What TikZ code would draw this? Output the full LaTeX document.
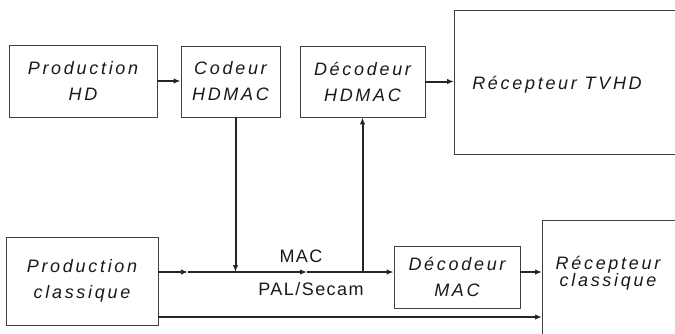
\documentclass[tikz,border=0pt]{standalone}
\usepackage{fontspec}
\setmainfont{Liberation Sans}
\newfontfamily\blocfont[LetterSpace=15]{Liberation Sans}
\newfontfamily\etiqfont[LetterSpace=8]{Liberation Sans}
\usetikzlibrary{arrows.meta}
\tikzset{
	bloc/.style={draw=black!75,line width=0.8pt,align=center,inner sep=0pt,text=black!90,
		font=\blocfont\itshape\fontsize{18}{26}\selectfont},
	liaison/.style={draw=black!85,line width=2pt,-{Latex[length=7pt,width=5.5pt]}},
	etiq/.style={inner sep=0pt,text=black!90,font=\etiqfont\fontsize{18}{22}\selectfont}
}
\begin{document}
\begin{tikzpicture}[x=1pt,y=-1pt]
	\useasboundingbox (0,0) rectangle (675,333);
	% blocs
	\node[bloc,minimum width=148pt,minimum height=72pt] (phd) at (83,81) {Production\\HD};
	\node[bloc,minimum width=99pt,minimum height=71pt] (cod) at (230.5,81.5) {Codeur\\HDMAC};
	\node[bloc,minimum width=125pt,minimum height=71pt] (dec) at (362.5,81.5) {Décodeur\\HDMAC};
	\node[bloc,minimum width=260pt,minimum height=144pt,anchor=north west] (tvhd) at (454,10) {};
	\node[bloc,draw=none] (ttvhd) at (557,85) {Récepteur TVHD};
	\node[bloc,minimum width=152pt,minimum height=88pt] (pcl) at (82,281) {Production\\classique};
	\node[bloc,minimum width=126pt,minimum height=62pt] (dmac) at (457,277) {Décodeur\\MAC};
	\node[bloc,minimum width=200pt,minimum height=150pt,anchor=north west] (rcl) at (542,220) {};
	\node[bloc,draw=none,font=\blocfont\itshape\fontsize{18}{17}\selectfont] (trcl) at (608,273) {Récepteur\\classique};
	\node[etiq] (mac) at (301,256) {MAC};
	\node[etiq] (pal) at (311,289) {PAL/Secam};
	% liaisons
	\coordinate (m0) at ([yshift=9pt]pcl.east);
	\coordinate (b0) at ([yshift=-36pt]pcl.east);
	\coordinate (f1) at (188,272);
	\coordinate (f2) at (307,272);
	\draw[liaison] (phd.east) -- (phd.east -| cod.west);
	\draw[liaison] (dec.east) -- (dec.east -| tvhd.west);
	\draw[liaison] ([xshift=5pt]cod.south) -- ([xshift=5pt]cod.south |- m0);
	\draw[liaison] (dec.south |- m0) -- (dec.south);
	\foreach \a/\b in {m0/f1,f1/f2}{
		\draw[liaison] (\a) -- (\b);
	};
	\draw[liaison] (f2) -- (f2 -| dmac.west);
	\draw[liaison] (dmac.east |- m0) -- (m0 -| rcl.west);
	\draw[liaison] (b0) -- (b0 -| rcl.west);
\end{tikzpicture}
\end{document}
